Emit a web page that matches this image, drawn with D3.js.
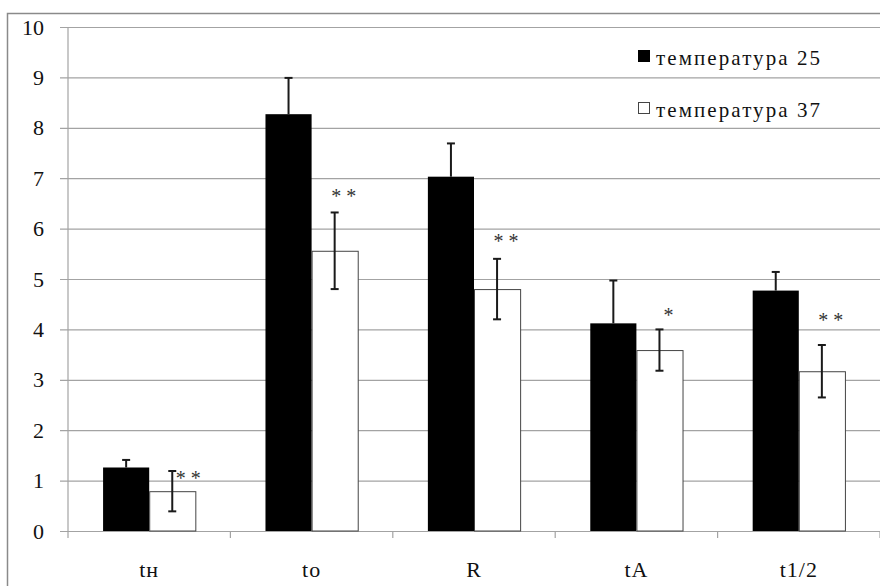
<!DOCTYPE html>
<html>
<head>
<meta charset="utf-8">
<script src="https://cdn.jsdelivr.net/npm/d3@7"></script>
<style>
  body { margin: 0; background: #fff; }
</style>
</head>
<body>
<div id="wrapper"></div>
<script>
// data
const categories = ["tн", "to", "R", "tA", "t1/2"];
const temp25 = [1.26, 8.27, 7.03, 4.12, 4.77];
const err25 = [0.15, 0.72, 0.66, 0.85, 0.37];
const temp37 = [0.79, 5.56, 4.80, 3.59, 3.17];
const err37 = [0.40, 0.76, 0.60, 0.41, 0.52];
const stars = ["* *", "* *", "* *", "*", "* *"];
const starLevel = [1.16, 6.75, 5.85, 4.38, 4.28];
const yTicks = [0, 1, 2, 3, 4, 5, 6, 7, 8, 9, 10];
const seriesNames = ["температура 25", "температура 37"];

const FONT = '"Liberation Serif", "Times New Roman", serif';

function build() {
    var dimension = {
        width: 880,
        height: 586,
        margin: { top: 27, right: 0, bottom: 55, left: 68 }
    };
    dimension.boundedWidth = dimension.width - dimension.margin.left - dimension.margin.right;
    dimension.boundedHeight = dimension.height - dimension.margin.top - dimension.margin.bottom;

    const wrapper = d3.select("#wrapper")
        .append("svg")
        .attr("width", dimension.width)
        .attr("height", dimension.height)
        .style("font-family", FONT);

    // outer frame (cut off at right and bottom like the original)
    wrapper.append("rect")
        .attr("x", 7.5).attr("y", 13.5)
        .attr("width", 900).attr("height", 600)
        .attr("fill", "none")
        .attr("stroke", "#8a8a8a")
        .attr("stroke-width", 1.5);

    const bounds = wrapper.append("g")
        .attr("transform", `translate(${dimension.margin.left},${dimension.margin.top})`);

    const x = d3.scaleBand()
        .domain(categories)
        .range([0, dimension.boundedWidth]);

    const y = d3.scaleLinear()
        .domain([0, 10])
        .range([dimension.boundedHeight, 0]);

    // gridlines + y axis
    const yAxis = bounds.append("g")
        .call(d3.axisLeft(y).tickValues(yTicks).tickSize(-dimension.boundedWidth - 8).tickPadding(16).tickFormat(d3.format("d")))
        .attr("transform", "translate(-8,0)")
        .attr("font-family", null);
    yAxis.select(".domain").remove();
    yAxis.selectAll(".tick line").attr("stroke", "#a3a3a3").attr("stroke-width", 1.2);
    yAxis.selectAll(".tick text")
        .style("font-family", FONT)
        .style("font-size", "22px")
        .attr("fill", "#111");

    bounds.append("line")
        .attr("x1", 0).attr("x2", 0)
        .attr("y1", 0).attr("y2", dimension.boundedHeight)
        .attr("stroke", "#a3a3a3").attr("stroke-width", 1.2);

    // x axis
    const xAxis = bounds.append("g")
        .attr("transform", `translate(0,${dimension.boundedHeight})`)
        .call(d3.axisBottom(x).tickSize(0).tickPadding(30))
        .attr("font-family", null);
    xAxis.select(".domain").attr("stroke", "#a3a3a3").attr("stroke-width", 1.2);
    xAxis.selectAll(".tick text")
        .style("font-family", FONT)
        .style("font-size", "22px")
        .style("letter-spacing", "1px")
        .attr("fill", "#111");

    const boundaries = d3.range(categories.length + 1).map(i => i * x.bandwidth());
    bounds.append("g")
        .selectAll("line")
        .data(boundaries)
        .enter()
        .append("line")
        .attr("x1", d => d).attr("x2", d => d)
        .attr("y1", dimension.boundedHeight).attr("y2", dimension.boundedHeight + 7)
        .attr("stroke", "#a3a3a3").attr("stroke-width", 1.2);

    const barW = x.bandwidth() * 0.284;
    const rows = categories.map((c, i) => ({
        cat: c, v25: temp25[i], e25: err25[i], v37: temp37[i], e37: err37[i],
        star: stars[i], starY: starLevel[i], i: i
    }));

    // bars
    bounds.append("g")
        .selectAll("rect")
        .data(rows)
        .enter()
        .append("rect")
        .attr("x", d => x(d.cat) + x.bandwidth() / 2 - barW)
        .attr("y", d => y(d.v25))
        .attr("width", barW)
        .attr("height", d => y(0) - y(d.v25))
        .attr("fill", "#000");

    bounds.append("g")
        .selectAll("rect")
        .data(rows)
        .enter()
        .append("rect")
        .attr("x", d => x(d.cat) + x.bandwidth() / 2 + 0.5)
        .attr("y", d => y(d.v37) + 0.5)
        .attr("width", barW)
        .attr("height", d => y(0) - y(d.v37) - 0.5)
        .attr("fill", "#fff")
        .attr("stroke", "#444")
        .attr("stroke-width", 1);

    // error bars (black series: only the upper whisker shows above the bar)
    function errorBars(cls, cx, val, err, both) {
        const g = bounds.append("g").attr("class", cls)
            .selectAll("g")
            .data(rows)
            .enter()
            .append("g")
            .attr("stroke", "#1a1a1a")
            .attr("stroke-width", 2);
        g.append("line")
            .attr("x1", cx).attr("x2", cx)
            .attr("y1", d => y(val(d) + err(d)))
            .attr("y2", d => both ? y(val(d) - err(d)) : y(val(d)));
        (both ? [1, -1] : [1]).forEach(s => {
            g.append("line")
                .attr("x1", d => cx(d) - 4).attr("x2", d => cx(d) + 4)
                .attr("y1", d => y(val(d) + s * err(d)))
                .attr("y2", d => y(val(d) + s * err(d)));
        });
    }
    errorBars("err25", d => x(d.cat) + x.bandwidth() / 2 - barW / 2, d => d.v25, d => d.e25, false);
    errorBars("err37", d => x(d.cat) + x.bandwidth() / 2 + barW / 2, d => d.v37, d => d.e37, true);

    // significance stars
    bounds.append("g")
        .selectAll("text")
        .data(rows)
        .enter()
        .append("text")
        .attr("x", d => x(d.cat) + x.bandwidth() / 2 + barW / 2 + (d.i === 0 ? 16 : 9))
        .attr("y", d => y(d.starY) + 12)
        .attr("text-anchor", "middle")
        .style("font-family", FONT)
        .style("font-size", "20px")
        .attr("fill", "#333")
        .text(d => d.star);

    // legend
    const legend = wrapper.append("g")
        .selectAll("g")
        .data(seriesNames)
        .enter()
        .append("g")
        .attr("transform", (d, i) => `translate(638,${50 + i * 52})`);
    legend.append("rect")
        .attr("x", 0.5).attr("y", 0.5)
        .attr("width", 11).attr("height", 11)
        .attr("fill", (d, i) => i === 0 ? "#000" : "#fff")
        .attr("stroke", (d, i) => i === 0 ? "#000" : "#444");
    legend.append("text")
        .attr("x", 18)
        .attr("y", 15)
        .attr("textLength", 164)
        .attr("lengthAdjust", "spacing")
        .style("font-family", FONT)
        .style("font-size", "21px")
        .attr("fill", "#111")
        .text(d => d);
}

build();
</script>
</body>
</html>
